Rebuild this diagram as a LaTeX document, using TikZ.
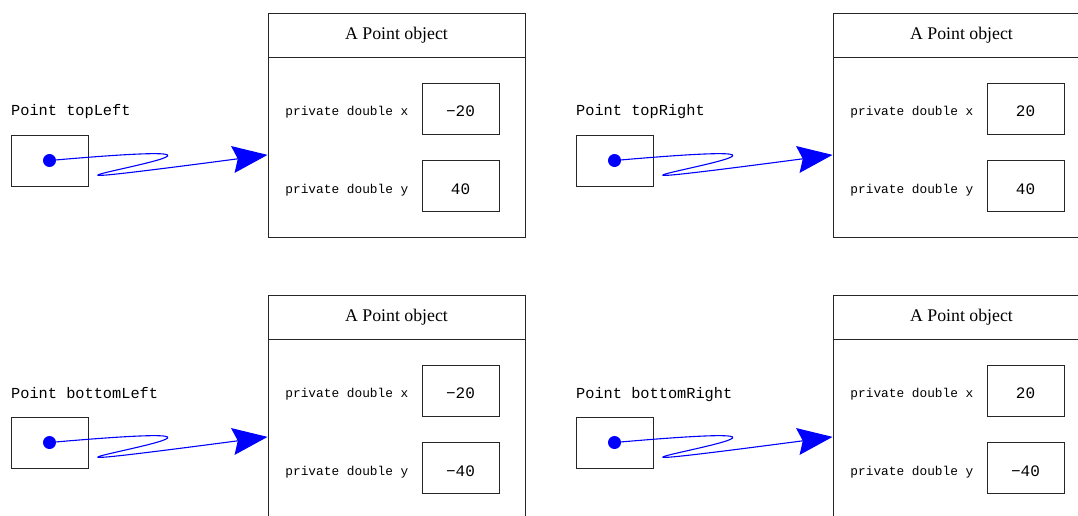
\documentclass[tikz,border=0pt]{standalone}
\usepackage{fontspec}
\setmainfont{Liberation Serif}
\setmonofont{Liberation Mono}
\usetikzlibrary{arrows.meta,positioning}
\tikzstyle{varbox}=[draw=black!85, line width=0.9pt
,minimum width=77pt, minimum height=51pt
,inner sep=0pt
]
\tikzstyle{valbox}=[draw=black!85, line width=0.9pt
,minimum width=77pt, minimum height=51pt
,inner sep=0pt, text height=15.5pt, text depth=0pt
,font=\fontsize{16}{18}\ttfamily
]
\tikzstyle{fieldlabel}=[inner sep=0pt, yshift=-4pt, font=\fontsize{12.8}{14}\ttfamily]
\tikzstyle{varlabel}=[inner sep=0pt, anchor=base west, font=\fontsize{15.3}{17}\ttfamily]
\tikzstyle{header}=[draw=black!85, line width=0.9pt
,minimum width=257pt, minimum height=44pt
,inner sep=0pt, font=\fontsize{17.8}{20}\selectfont
]
\tikzstyle{body}=[draw=black!85, line width=0.9pt
,minimum width=257pt, minimum height=180pt
,inner sep=0pt
]
\tikzstyle{dot}=[circle, fill=blue, minimum size=13pt, inner sep=0pt]
\tikzstyle{ref}=[draw=blue, line width=1.1pt, -{Stealth[length=35pt,width=27pt,inset=5pt]}]

\begin{document}
\begin{tikzpicture}[x=1pt,y=-1pt]
    \useasboundingbox (0,0) rectangle (1078,516);
    \clip (0,0) rectangle (1078,516);
    % One variable and the object it refers to, four times
    \foreach \dx/\dy/\nm/\xv/\yv in {0/0/topLeft/−20/40, 565/0/topRight/20/40, 0/282/bottomLeft/−20/−40, 565/282/bottomRight/20/−40}
    {
    \begin{scope}[shift={(\dx,\dy)}]
        % the variable
        \node[varlabel] (lbl-\nm) at (11,116) {Point \nm};
        \node[varbox] (var-\nm) at (49.5,160.5) {};
        \node[dot] (dot-\nm) at (var-\nm.center) {};
        % the object
        \node[header] (hdr-\nm) at (396.5,35) {A Point object};
        \node[body, below=0pt of hdr-\nm] (obj-\nm) {};
        \node[valbox] (xval-\nm) at (460.5,108.5) {\xv};
        \node[valbox, below=26pt of xval-\nm] (yval-\nm) {\yv};
        \node[fieldlabel, left=13pt of xval-\nm] (xlbl-\nm) {private double x};
        \node[fieldlabel, left=13pt of yval-\nm] (ylbl-\nm) {private double y};
        % the reference
        \coordinate (tip-\nm) at ([yshift=-7pt]obj-\nm.west);
        \path[ref] (dot-\nm) .. controls +(325,-28) and +(-395,52) .. (tip-\nm);
    \end{scope}
    }
\end{tikzpicture}
\end{document}
